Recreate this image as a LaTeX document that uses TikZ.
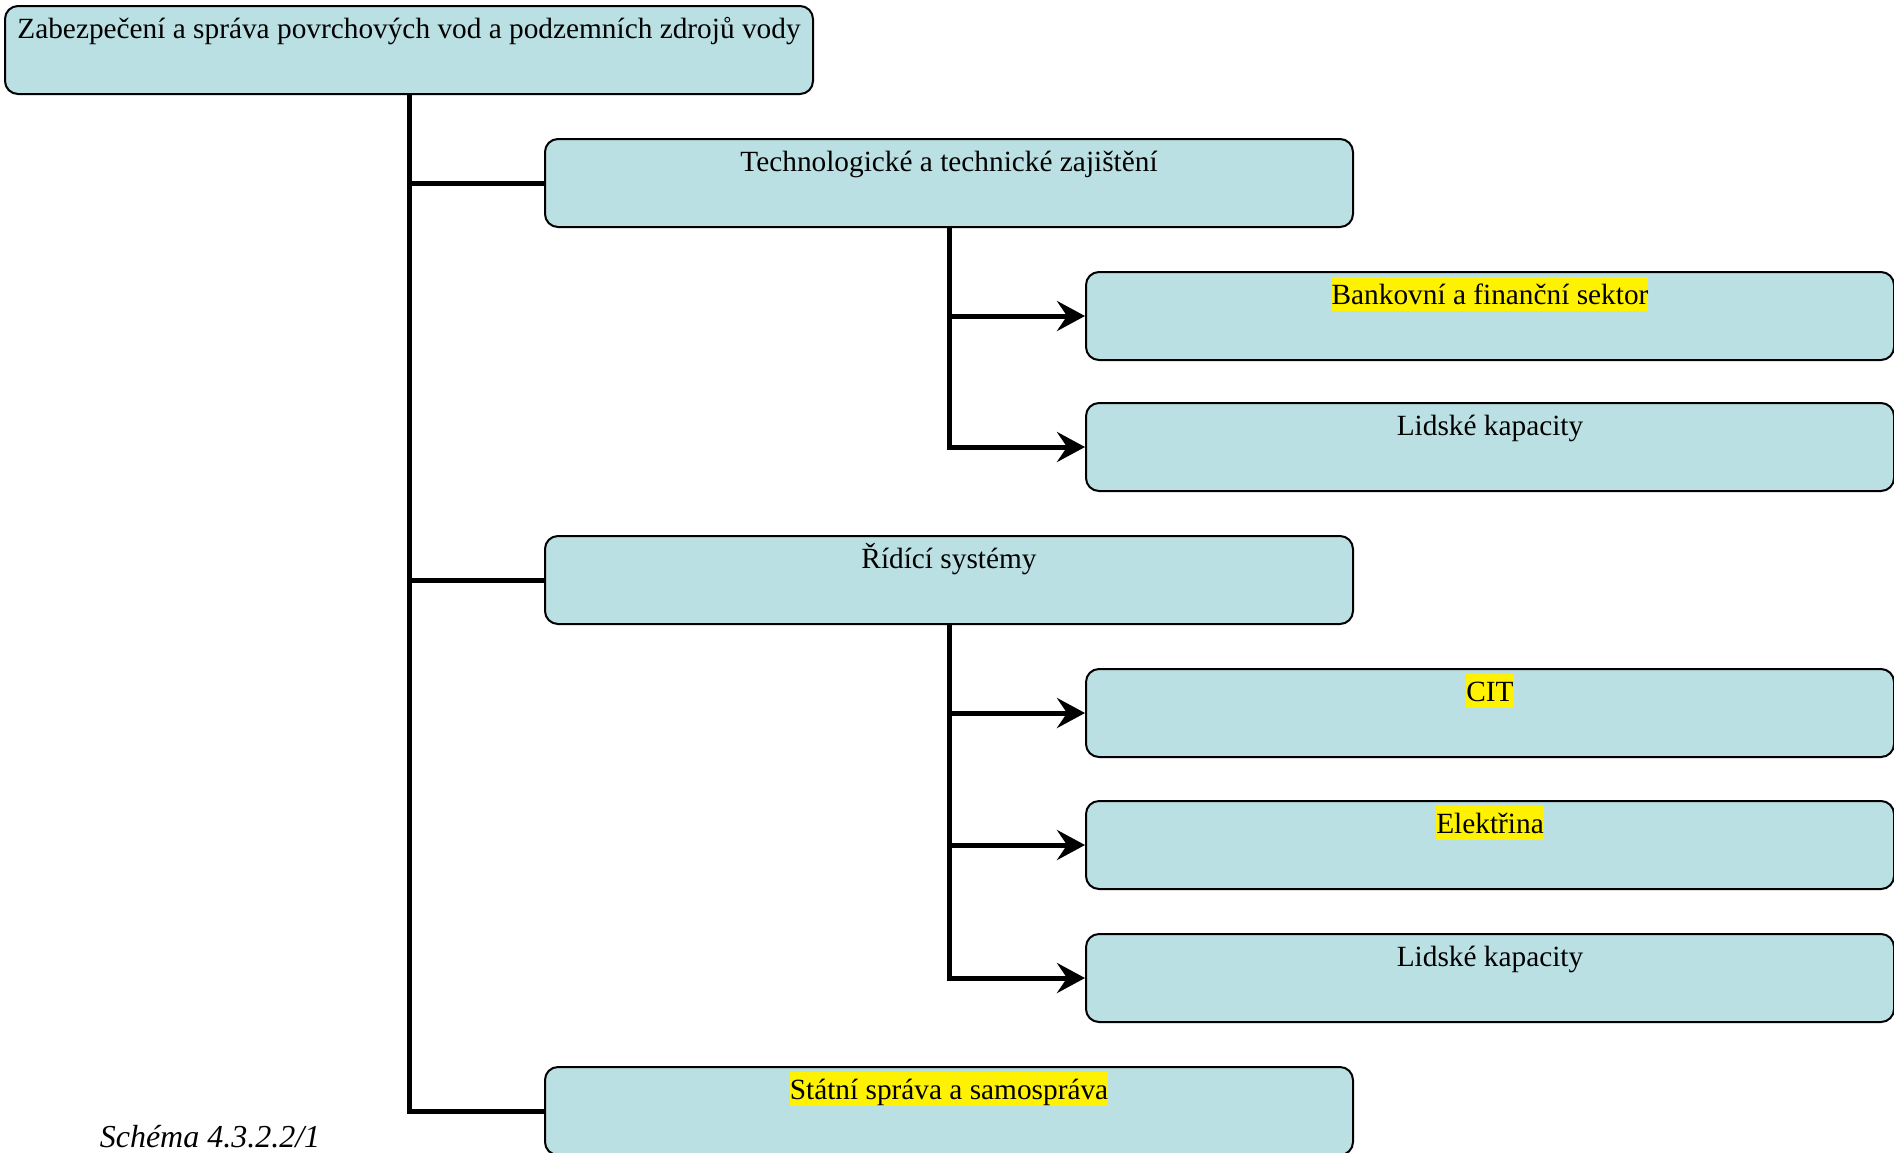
\documentclass[tikz,border=0pt]{standalone}
\usepackage{fontspec}
\setmainfont{Liberation Serif}
\usetikzlibrary{arrows.meta}
\definecolor{boxfill}{RGB}{187,224,227}
\begin{document}
\begin{tikzpicture}[x=0.5pt,y=-0.5pt,
  every node/.style={font=\fontsize{14.66pt}{17pt}\selectfont},
  box/.style={draw=black, line width=1pt, fill=boxfill, rounded corners=6.5pt,
    minimum width=404pt, minimum height=44pt, anchor=north west, inner sep=0pt},
  lab/.style={anchor=north, inner sep=0pt, text height=13.5pt, text depth=3.5pt},
  hl/.style={lab, fill=yellow},
  trunk/.style={line width=2.5pt, line join=miter},
  tip/.style={trunk, -{Stealth[length=14pt, width=15pt, inset=5pt]}}]
\clip (0,0) rectangle (1894,1152);

% boxes
\node[box] (top) at (4,5) {};
\node[box] (b1) at (544,138) {};
\node[box] (c1) at (1085,271) {};
\node[box] (c2) at (1085,402) {};
\node[box] (b2) at (544,535) {};
\node[box] (c3) at (1085,668) {};
\node[box] (c4) at (1085,800) {};
\node[box] (c5) at (1085,933) {};
\node[box] (b3) at (544,1066) {};

% box titles
\node[lab] (ttop) at ([yshift=-3pt]top.north) {Zabezpečení a správa povrchových vod a podzemních zdrojů vody};
\node[lab] (tb1) at ([yshift=-3pt]b1.north) {Technologické a technické zajištění};
\node[hl]  (tc1) at ([yshift=-3pt]c1.north) {Bankovní a finanční sektor};
\node[lab] (tc2) at ([yshift=-3pt]c2.north) {Lidské kapacity};
\node[lab] (tb2) at ([yshift=-3pt]b2.north) {Řídící systémy};
\node[hl]  (tc3) at ([yshift=-3pt]c3.north) {CIT};
\node[hl]  (tc4) at ([yshift=-3pt]c4.north) {Elektřina};
\node[lab] (tc5) at ([yshift=-3pt]c5.north) {Lidské kapacity};
\node[hl]  (tb3) at ([yshift=-3pt]b3.north) {Státní správa a samospráva};

% connectors
\draw[trunk] (top.south) |- (b1.west);
\draw[trunk] (top.south) |- (b2.west);
\draw[trunk] (top.south) |- (b3.west);
\draw[tip] (b1.south) |- (c1.west);
\draw[tip] (b1.south) |- (c2.west);
\draw[tip] (b2.south) |- (c3.west);
\draw[tip] (b2.south) |- (c4.west);
\draw[tip] (b2.south) |- (c5.west);

% caption
\node[font=\fontsize{16pt}{19pt}\selectfont\itshape, anchor=base, inner sep=0pt] (cap) at (210,1147) {Schéma 4.3.2.2/1};
\end{tikzpicture}
\end{document}
